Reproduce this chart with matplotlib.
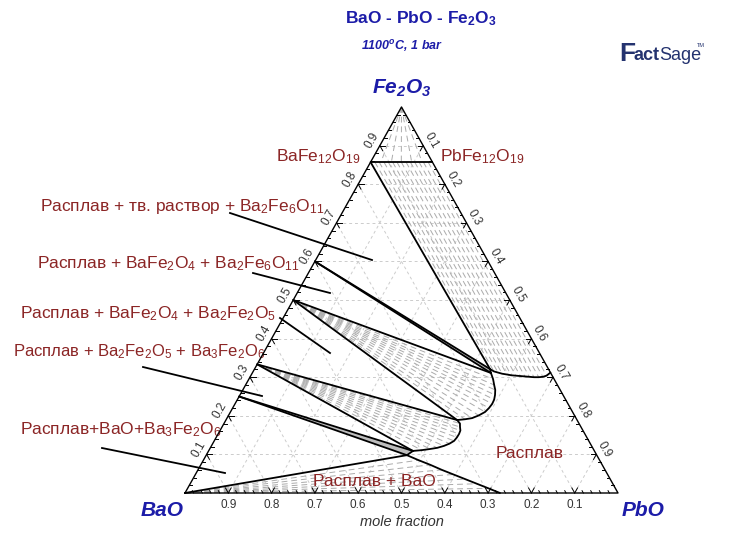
import numpy as np
import matplotlib.pyplot as plt

plt.rcParams['font.family'] = ['Liberation Sans', 'DejaVu Sans']
plt.rcParams['mathtext.fontset'] = 'custom'
plt.rcParams['mathtext.rm'] = 'Liberation Sans'
plt.rcParams['mathtext.it'] = 'Liberation Sans:italic'
plt.rcParams['mathtext.bf'] = 'Liberation Sans:bold'
plt.rcParams['mathtext.bfit'] = 'Liberation Sans:bold:italic'

# compositions are (x PbO, x Fe2O3), BaO = rest
# compounds on the BaO - Fe2O3 edge, mole fraction Fe2O3
fe_Ba3Fe2O6 = 0.25
fe_Ba2Fe2O5 = 1 / 3
fe_BaFe2O4 = 0.5
fe_Ba2Fe6O11 = 0.6
fe_ss = 6 / 7          # BaFe12O19 - PbFe12O19 solid solution
pb_ss_end = 1 / 7      # PbFe12O19

# invariant liquids
L1 = (0.544, 0.321)
L2 = (0.551, 0.311)
L3 = (0.534, 0.189)
L4 = (0.472, 0.109)
L5 = (0.4635, 0.098)

# liquidus in equilibrium with the solid solution (L1 -> PbO-Fe2O3 edge)
liq_ss_pb = [0.544, 0.556, 0.567, 0.578, 0.590, 0.601, 0.612, 0.623, 0.634, 0.645, 0.656, 0.667, 0.676, 0.683, 0.688]
liq_ss_fe = [0.321, 0.315, 0.312, 0.309, 0.307, 0.305, 0.304, 0.303, 0.302, 0.301, 0.300, 0.300, 0.301, 0.304, 0.312]
# matching points on the solid solution line
ss_tie_pb = [0.0, 0.010, 0.020, 0.031, 0.041, 0.051, 0.061, 0.071, 0.082, 0.092, 0.102, 0.112, 0.122, 0.133, 0.143]

# liquidus with BaFe2O4 (L2 -> L3)
liq_bf_pb = [0.551, 0.564, 0.574, 0.583, 0.589, 0.593, 0.594, 0.592, 0.588, 0.578, 0.566, 0.551, 0.534]
liq_bf_fe = [0.311, 0.295, 0.280, 0.267, 0.254, 0.242, 0.231, 0.220, 0.210, 0.201, 0.194, 0.191, 0.189]

# liquidus with Ba2Fe2O5 (L3 -> L4)
liq_b2_pb = [0.534, 0.545, 0.5496, 0.555, 0.5564, 0.556, 0.5539, 0.547, 0.537, 0.524, 0.509, 0.491, 0.472]
liq_b2_fe = [0.189, 0.180, 0.171, 0.162, 0.153, 0.144, 0.135, 0.128, 0.122, 0.117, 0.114, 0.111, 0.109]

# liquidus with BaO (L5 -> BaO-PbO edge)
liq_bao_pb = [0.4635, 0.497, 0.530, 0.563, 0.596, 0.629, 0.662, 0.695, 0.7275]
liq_bao_fe = [0.098, 0.085, 0.073, 0.060, 0.048, 0.036, 0.024, 0.012, 0.0]

# Fe2O3 + solid solution tie lines end on the ss line
fe2o3_tie_pb = [0.024, 0.048, 0.071, 0.095, 0.119]

ticks = [0.1, 0.2, 0.3, 0.4, 0.5, 0.6, 0.7, 0.8, 0.9]

# picture geometry (pixels): BaO corner, side length, height
X0, Y0, SIDE, TALL = 185, 493, 433, 386
W, H = 737, 536


def tern(pb, fe):
    pb = np.asarray(pb, dtype=float)
    fe = np.asarray(fe, dtype=float)
    return pb + fe / 2, fe


def P(x, y):
    return (x - X0) / SIDE, (Y0 - y) / TALL


def seg(ax, a, b, **kw):
    xa, ya = tern(*a)
    xb, yb = tern(*b)
    ax.plot([xa, xb], [ya, yb], **kw)


fig = plt.figure(figsize=(W / 100, H / 100), dpi=100)
ax = fig.add_axes([0, 0, 1, 1])
ax.set_xlim(P(0, 0)[0], P(W, 0)[0])
ax.set_ylim(P(0, H)[1], P(0, 0)[1])
ax.axis('off')

black = dict(color='black', lw=1.3, solid_capstyle='round', zorder=4)
tie = dict(color='#ababab', lw=0.7, ls=(0, (6, 4)), zorder=2)
grid = dict(color='#cccccc', lw=0.7, ls=(0, (3, 3)), zorder=1)

# grid
for v in ticks:
    seg(ax, (0, v), (1 - v, v), **grid)
    seg(ax, (v, 0), (v, 1 - v), **grid)
    seg(ax, (1 - v, 0), (0, 1 - v), **grid)

# triangle
bx, by = tern([0, 1, 0, 0], [0, 0, 1, 0])
ax.plot(bx, by, color='black', lw=1.0, zorder=5)

# ticks
t_maj, t_min = 0.013, 0.006
for v in np.arange(0.02, 0.99, 0.02):
    v = round(v, 2)
    major = abs(v * 10 - round(v * 10)) < 1e-6
    t = t_maj if major else t_min
    # bottom edge (BaO)
    seg(ax, (v, 0), (v - t, t), color='black', lw=0.7, zorder=5)
    if major:
        seg(ax, (v, 0), (v, t), color='black', lw=0.7, zorder=5)
    # left edge (Fe2O3)
    seg(ax, (0, v), (t, v), color='black', lw=0.7, zorder=5)
    if major:
        seg(ax, (0, v), (t, v - t), color='black', lw=0.7, zorder=5)
    # right edge (PbO)
    seg(ax, (v, 1 - v), (v - t, 1 - v), color='black', lw=0.7, zorder=5)
    if major:
        seg(ax, (v, 1 - v), (v, 1 - v - t), color='black', lw=0.7, zorder=5)

lab = dict(fontsize=8.5, color='#333333', ha='center', va='center')
for v in ticks:
    x, y = tern(1 - v, 0)
    ax.text(x, y - 12 / TALL, f"{v:.1f}", **lab)
    x, y = tern(0, v)
    ax.text(x - 8 / SIDE, y + 5 / TALL, f"{v:.1f}", rotation=60, **lab)
    x, y = tern(v, 1 - v)
    ax.text(x + 8 / SIDE, y + 5 / TALL, f"{v:.1f}", rotation=-60, **lab)

# tie lines
for pb in fe2o3_tie_pb:
    seg(ax, (0, 1), (pb, fe_ss), **tie)
for pb0, pb1, fe1 in zip(ss_tie_pb[1:-1], liq_ss_pb[1:-1], liq_ss_fe[1:-1]):
    seg(ax, (pb0, fe_ss), (pb1, fe1), **tie)
for pb1, fe1 in zip(liq_bf_pb[1:-1], liq_bf_fe[1:-1]):
    seg(ax, (0, fe_BaFe2O4), (pb1, fe1), **tie)
for pb1, fe1 in zip(liq_b2_pb[1:-1], liq_b2_fe[1:-1]):
    seg(ax, (0, fe_Ba2Fe2O5), (pb1, fe1), **tie)
for pb1, fe1 in zip(liq_bao_pb[1:-1], liq_bao_fe[1:-1]):
    seg(ax, (0, 0), (pb1, fe1), **tie)

# thin two-phase slivers
for fe0, a, b in [(fe_Ba2Fe6O11, L1, L2), (fe_Ba3Fe2O6, L4, L5)]:
    sx, sy = tern([0, a[0], b[0]], [fe0, a[1], b[1]])
    ax.fill(sx, sy, color='#bdbdbd', lw=0, zorder=3)

# phase boundaries
seg(ax, (0, fe_ss), (pb_ss_end, fe_ss), **black)
seg(ax, (0, fe_ss), L1, **black)
seg(ax, (0, fe_Ba2Fe6O11), L1, **black)
seg(ax, (0, fe_Ba2Fe6O11), L2, **black)
seg(ax, (0, fe_BaFe2O4), L2, **black)
seg(ax, (0, fe_BaFe2O4), L3, **black)
seg(ax, (0, fe_Ba2Fe2O5), L3, **black)
seg(ax, (0, fe_Ba2Fe2O5), L4, **black)
seg(ax, (0, fe_Ba3Fe2O6), L4, **black)
seg(ax, (0, fe_Ba3Fe2O6), L5, **black)
seg(ax, (0, 0), L5, **black)
seg(ax, L1, L2, **black)
seg(ax, L4, L5, **black)
for cpb, cfe in [(liq_ss_pb, liq_ss_fe), (liq_bf_pb, liq_bf_fe),
                 (liq_b2_pb, liq_b2_fe), (liq_bao_pb, liq_bao_fe)]:
    cx, cy = tern(cpb, cfe)
    ax.plot(cx, cy, **black)

# titles and corner labels
blue = '#1c1ca8'
ax.text(*P(421, 19), "BaO - PbO - Fe$_\\mathbf{2}$O$_\\mathbf{3}$", color=blue,
        fontsize=12.5, fontweight='bold', ha='center', va='center')
ax.text(*P(402, 46), "1100$^\\mathbfit{o}$C, 1 bar", color=blue, fontsize=9,
        fontweight='bold', style='italic', ha='center', va='center')
ax.text(*P(402, 88), "Fe$_\\mathbfit{2}$O$_\\mathbfit{3}$", color=blue, fontsize=15,
        fontweight='bold', style='italic', ha='center', va='center')
ax.text(*P(162, 511), "BaO", color=blue, fontsize=15, fontweight='bold',
        style='italic', ha='center', va='center')
ax.text(*P(643, 511), "PbO", color=blue, fontsize=15, fontweight='bold',
        style='italic', ha='center', va='center')
ax.text(*P(402, 522), "mole fraction", color='#333333', fontsize=10.5,
        style='italic', ha='center', va='center')

# FactSage logo
navy = '#24336f'
ax.text(*P(619, 61), "F", color=navy, fontsize=19, fontweight='bold', ha='left', va='baseline')
ax.text(*P(634, 60), "act", color=navy, fontsize=13, fontweight='bold', ha='left', va='baseline')
ax.text(*P(659, 60), "Sage", color=navy, fontsize=13, ha='left', va='baseline')
ax.text(*P(697, 47), "TM", color=navy, fontsize=4, ha='left', va='baseline')

# phase labels
red = '#8b2525'
rl = dict(color=red, fontsize=12.5, ha='left', va='baseline')
ax.text(*P(40, 211), "Расплав + тв. раствор + Ba$_2$Fe$_6$O$_{11}$", **rl)
ax.text(*P(37, 268), "Расплав + BaFe$_2$O$_4$ + Ba$_2$Fe$_6$O$_{11}$", **rl)
ax.text(*P(20, 318), "Расплав + BaFe$_2$O$_4$ + Ba$_2$Fe$_2$O$_5$", **rl)
ax.text(*P(13, 356), "Расплав + Ba$_2$Fe$_2$O$_5$ + Ba$_3$Fe$_2$O$_6$", color=red,
        fontsize=12, ha='left', va='baseline')
ax.text(*P(20, 434), "Расплав+BaO+Ba$_3$Fe$_2$O$_6$", **rl)
ax.text(*P(276, 161), "BaFe$_{12}$O$_{19}$", **rl)
ax.text(*P(440, 161), "PbFe$_{12}$O$_{19}$", **rl)
ax.text(*P(530, 454), "Расплав", color=red, fontsize=12.5, ha='center', va='center')
ax.text(*P(374, 482), "Расплав + BaO", color=red, fontsize=12.5, ha='center', va='center',
        zorder=6)

# leader lines
leaders = [((230, 213), (372, 260)), ((253, 273), (330, 293)), ((280, 318), (330, 353)),
           ((143, 367), (262, 396)), ((102, 448), (225, 473))]
for a, b in leaders:
    (xa, ya), (xb, yb) = P(*a), P(*b)
    ax.plot([xa, xb], [ya, yb], color='black', lw=1.3, zorder=6)

fig.savefig("out.png", dpi=100)
